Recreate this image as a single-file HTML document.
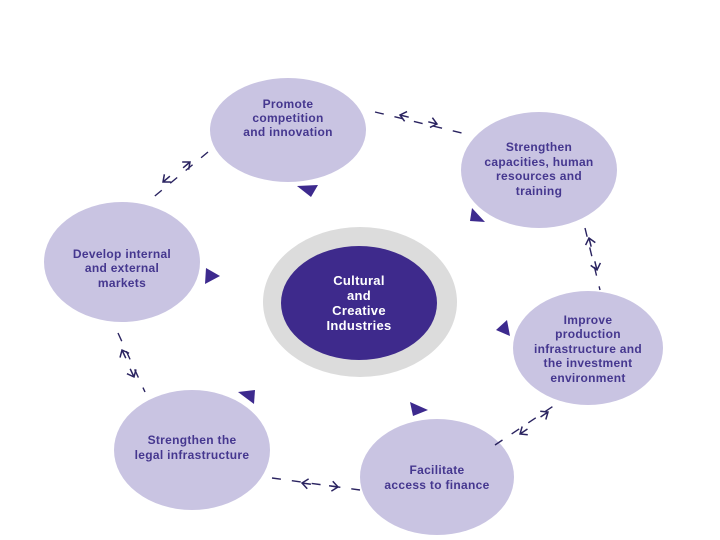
<!DOCTYPE html>
<html><head><style>
html,body{margin:0;padding:0;background:#fff;}
svg{display:block;}
text{font-family:"Liberation Sans",sans-serif;font-weight:bold;font-size:12px;fill:#45378f;text-anchor:middle;letter-spacing:0.3px;}
.c{fill:#c9c4e2;}
.d{stroke:#2a2360;stroke-width:1.4;stroke-dasharray:9 11;fill:none;}
.t{fill:#3d2a8e;}
.a{stroke:#2a2360;stroke-width:1.5;fill:none;}
</style></head><body>
<svg width="720" height="540" viewBox="0 0 720 540">
<ellipse cx="360" cy="302" rx="97" ry="75" fill="#dcdcdc"/>
<ellipse cx="359" cy="303" rx="78" ry="57" fill="#3e2a8c"/>
<text x="359" y="285" style="fill:#fff;font-size:13px">Cultural</text>
<text x="359" y="300" style="fill:#fff;font-size:13px">and</text>
<text x="359" y="315" style="fill:#fff;font-size:13px">Creative</text>
<text x="359" y="330" style="fill:#fff;font-size:13px">Industries</text>

<ellipse class="c" cx="288" cy="130" rx="78" ry="52"/>
<text x="288" y="108">Promote</text><text x="288" y="122">competition</text><text x="288" y="136">and innovation</text>

<ellipse class="c" cx="539" cy="170" rx="78" ry="58"/>
<text x="539" y="151">Strengthen</text><text x="539" y="166">capacities, human</text><text x="539" y="180">resources and</text><text x="539" y="195">training</text>

<ellipse class="c" cx="588" cy="348" rx="75" ry="57"/>
<text x="588" y="324">Improve</text><text x="588" y="338">production</text><text x="588" y="353">infrastructure and</text><text x="588" y="367">the investment</text><text x="588" y="382">environment</text>

<ellipse class="c" cx="437" cy="477" rx="77" ry="58"/>
<text x="437" y="474">Facilitate</text><text x="437" y="489">access to finance</text>

<ellipse class="c" cx="192" cy="450" rx="78" ry="60"/>
<text x="192" y="444">Strengthen the</text><text x="192" y="459">legal infrastructure</text>

<ellipse class="c" cx="122" cy="262" rx="78" ry="60"/>
<text x="122" y="258">Develop internal</text><text x="122" y="272">and external</text><text x="122" y="287">markets</text>

<path class="d" d="M375 112 L470 135"/>
<path class="d" d="M208 152 L150 200"/>
<path class="d" d="M118 333 L145 392"/>
<path class="d" d="M272 478 L360 490"/>
<path class="d" d="M495 445 L555 405"/>
<path class="d" d="M585 228 L600 290"/>

<g class="a">
<path transform="translate(400,115) rotate(14)" d="M6,-5 L0,0 L6,5 M0,0 L9,0"/>
<path transform="translate(437,124) rotate(194)" d="M6,-5 L0,0 L6,5 M0,0 L9,0"/>
<path transform="translate(163,182) rotate(-40)" d="M6,-5 L0,0 L6,5 M0,0 L9,0"/>
<path transform="translate(190,162) rotate(140)" d="M6,-5 L0,0 L6,5 M0,0 L9,0"/>
<path transform="translate(122,350) rotate(65)" d="M6,-5 L0,0 L6,5 M0,0 L9,0"/>
<path transform="translate(134,377) rotate(245)" d="M6,-5 L0,0 L6,5 M0,0 L9,0"/>
<path transform="translate(302,483) rotate(8)" d="M6,-5 L0,0 L6,5 M0,0 L9,0"/>
<path transform="translate(338,487) rotate(188)" d="M6,-5 L0,0 L6,5 M0,0 L9,0"/>
<path transform="translate(520,434) rotate(-34)" d="M6,-5 L0,0 L6,5 M0,0 L9,0"/>
<path transform="translate(548,412) rotate(146)" d="M6,-5 L0,0 L6,5 M0,0 L9,0"/>
<path transform="translate(589,238) rotate(76)" d="M6,-5 L0,0 L6,5 M0,0 L9,0"/>
<path transform="translate(597,270) rotate(256)" d="M6,-5 L0,0 L6,5 M0,0 L9,0"/>
</g>

<polygon class="t" points="297,186 318,185 311,197"/>
<polygon class="t" points="472,208 485,222 470,221"/>
<polygon class="t" points="206,268 220,276 205,284"/>
<polygon class="t" points="238,392 255,390 254,404"/>
<polygon class="t" points="410,402 428,410 413,416"/>
<polygon class="t" points="496,330 507,320 510,336"/>
</svg>
</body></html>
